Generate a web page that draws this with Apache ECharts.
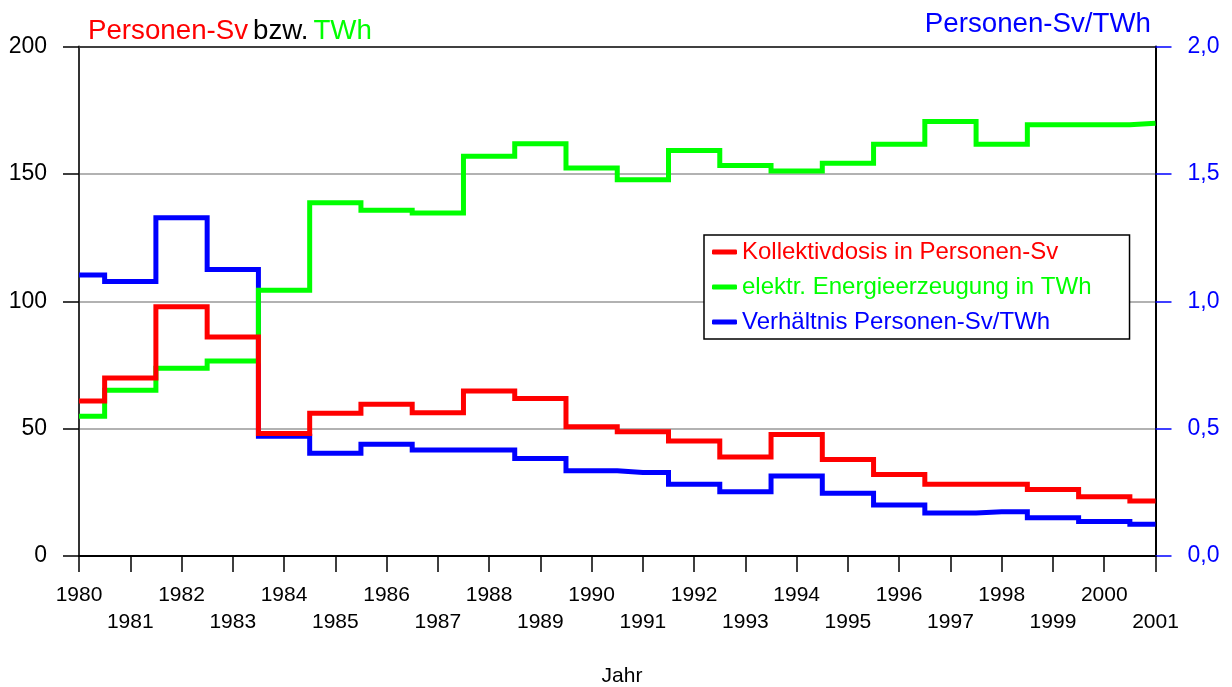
<!DOCTYPE html>
<html>
<head>
<meta charset="utf-8">
<script src="https://cdn.jsdelivr.net/npm/echarts@6/dist/echarts.min.js"></script>
<style>
  html, body { margin: 0; padding: 0; background: #fff; }
  #chart { width: 1232px; height: 687px; }
</style>
</head>
<body>
<div id="chart"></div>
<script>
// Jahre
const years = [1980, 1981, 1982, 1983, 1984, 1985, 1986, 1987, 1988, 1989, 1990,
  1991, 1992, 1993, 1994, 1995, 1996, 1997, 1998, 1999, 2000, 2001]

// Kollektivdosis in Personen-Sv
const dose = [60.8, 69.9, 97.8, 86.0, 48.1, 56.0, 59.6, 56.2, 64.8, 61.8, 50.7,
  48.8, 45.1, 38.9, 47.7, 37.9, 32.0, 28.2, 28.2, 26.1, 23.3, 21.6]

// elektr. Energieerzeugung in TWh
const energy = [54.9, 65.1, 73.7, 76.5, 104.3, 138.7, 135.7, 134.6, 156.9, 161.8, 152.3,
  147.7, 159.2, 153.3, 151.1, 154.2, 161.6, 170.6, 161.6, 169.3, 169.3, 169.9]

// Verhaeltnis Personen-Sv/TWh
const ratio = [1.103, 1.078, 1.328, 1.125, 0.470, 0.403, 0.439, 0.416, 0.416, 0.383, 0.335,
  0.328, 0.282, 0.252, 0.314, 0.246, 0.200, 0.169, 0.174, 0.150, 0.135, 0.125]

const leftTicks = [0, 50, 100, 150, 200]
const rightTicks = [0, 0.5, 1.0, 1.5, 2.0]

const pairs = vals => years.map((y, i) => [y, vals[i]])

const FONT = '"Liberation Sans", Arial, sans-serif'
const RED = '#ff0000'
const GREEN = '#00ff00'
const BLUE = '#0000ff'

const chart = echarts.init(document.getElementById('chart'))

const stepLine = (name, color, data, yIndex) => ({
  name: name,
  type: 'line',
  step: 'middle',
  yAxisIndex: yIndex,
  showSymbol: false,
  symbol: 'none',
  lineStyle: { color: color, width: 5, join: 'miter' },
  itemStyle: { color: color },
  data: data,
  animation: false
})

chart.setOption({
  backgroundColor: '#fff',
  animation: false,
  textStyle: { fontFamily: FONT },
  title: [
    {
      left: 83,
      top: 12,
      text: '{r|Personen-Sv} {k|bzw.} {g|TWh}',
      textStyle: {
        fontWeight: 'normal',
        rich: {
          r: { color: RED, fontSize: 27.7, fontWeight: 'normal', fontFamily: FONT },
          k: { color: '#000', fontSize: 27.7, fontWeight: 'normal', fontFamily: FONT },
          g: { color: GREEN, fontSize: 27.7, fontWeight: 'normal', fontFamily: FONT }
        }
      }
    },
    {
      right: 76,
      top: 5,
      text: 'Personen-Sv/TWh',
      textStyle: { color: BLUE, fontSize: 27.7, fontWeight: 'normal', fontFamily: FONT }
    },
    {
      left: 617,
      textAlign: 'center',
      top: 661,
      text: 'Jahr',
      textStyle: { color: '#000', fontSize: 21, fontWeight: 'normal', fontFamily: FONT }
    }
  ],
  legend: {
    orient: 'vertical',
    left: 704,
    top: 235,
    padding: [5, 38, 5, 8],
    itemGap: 11,
    itemWidth: 25,
    itemHeight: 5,
    icon: 'roundRect',
    borderColor: '#000',
    borderWidth: 1.5,
    backgroundColor: '#fff',
    textStyle: { fontSize: 24, fontFamily: FONT },
    data: [
      { name: 'Kollektivdosis in Personen-Sv', textStyle: { color: RED } },
      { name: 'elektr. Energieerzeugung in TWh', textStyle: { color: GREEN } },
      { name: 'Verhältnis Personen-Sv/TWh', textStyle: { color: BLUE } }
    ]
  },
  grid: { left: 79, right: 76.5, top: 46.5, bottom: 131 },
  xAxis: {
    type: 'value',
    min: years[0],
    max: years[years.length - 1],
    interval: 1,
    axisLine: { lineStyle: { color: '#000', width: 2 } },
    axisTick: { inside: false, length: 16, lineStyle: { color: '#000', width: 1.5 } },
    axisLabel: {
      color: '#000',
      fontSize: 21,
      fontFamily: FONT,
      lineHeight: 27,
      margin: 26,
      hideOverlap: false,
      formatter: v => (v % 2 ? '\n' + v : String(v))
    },
    splitLine: { show: false }
  },
  yAxis: [
    {
      type: 'value',
      min: leftTicks[0],
      max: leftTicks[leftTicks.length - 1],
      interval: 50,
      axisLine: { show: true, lineStyle: { color: '#333', width: 2 } },
      axisTick: { show: true, length: 16, lineStyle: { color: '#000', width: 1.5 } },
      axisLabel: { color: '#000', fontSize: 23, fontFamily: FONT, margin: 32 },
      splitLine: {
        show: true,
        lineStyle: { color: ['#000', '#999', '#999', '#999', '#000'], width: 1.5 }
      }
    },
    {
      type: 'value',
      position: 'right',
      min: rightTicks[0],
      max: rightTicks[rightTicks.length - 1],
      interval: 0.5,
      axisLine: { show: true, lineStyle: { color: '#000', width: 2 } },
      axisTick: { show: true, length: 16, lineStyle: { color: BLUE, width: 1.5 } },
      axisLabel: {
        color: BLUE,
        fontSize: 23,
        fontFamily: FONT,
        margin: 32,
        formatter: v => v.toFixed(1).replace('.', ',')
      },
      splitLine: { show: false }
    }
  ],
  series: [
    stepLine('Verhältnis Personen-Sv/TWh', BLUE, pairs(ratio), 1),
    stepLine('elektr. Energieerzeugung in TWh', GREEN, pairs(energy), 0),
    stepLine('Kollektivdosis in Personen-Sv', RED, pairs(dose), 0)
  ]
})
</script>
</body>
</html>
